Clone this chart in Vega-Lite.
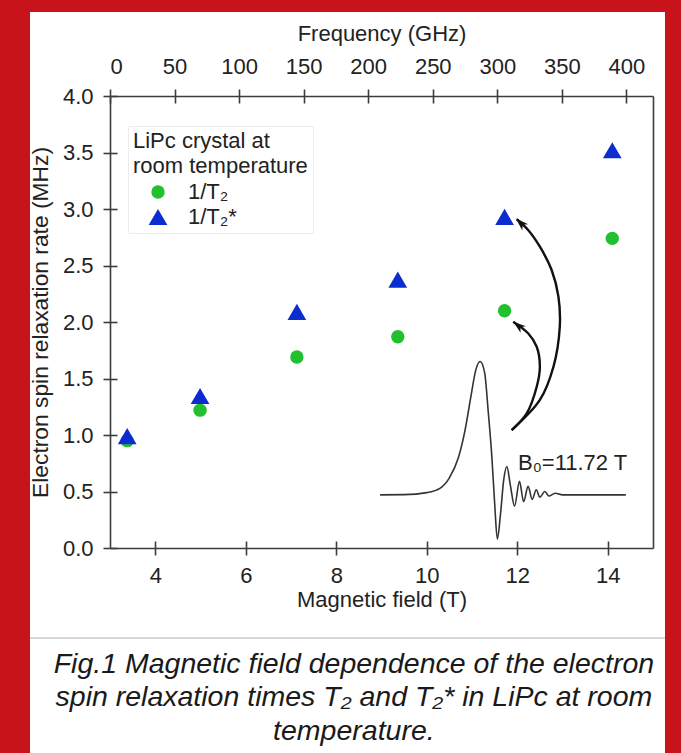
{
  "$schema": "https://vega.github.io/schema/vega-lite/v6.json",
  "autosize": {"type": "none"},
  "width": 543,
  "height": 452,
  "padding": {"left": 110, "top": 96, "right": 28, "bottom": 205},
  "background": "#c8131a",
  "config": {
    "view": {"stroke": null},
    "font": "Liberation Sans",
    "axis": {
      "zindex": 1,
      "grid": false,
      "domainColor": "#3c3c3c",
      "domainWidth": 1.6,
      "tickColor": "#3c3c3c",
      "tickWidth": 1.6,
      "labelFont": "Liberation Sans",
      "labelFontSize": 22,
      "labelColor": "#222222",
      "titleFont": "Liberation Sans",
      "titleFontSize": 22,
      "titleFontWeight": "normal",
      "titleColor": "#222222"
    }
  },
  "datasets": {
    "points": [
      {"field": 3.38, "rate": 0.95, "series": "1/T₂"},
      {"field": 4.99, "rate": 1.22, "series": "1/T₂"},
      {"field": 7.13, "rate": 1.69, "series": "1/T₂"},
      {"field": 9.36, "rate": 1.87, "series": "1/T₂"},
      {"field": 11.72, "rate": 2.1, "series": "1/T₂"},
      {"field": 14.1, "rate": 2.74, "series": "1/T₂"},
      {"field": 3.38, "rate": 0.99, "series": "1/T₂*"},
      {"field": 4.99, "rate": 1.345, "series": "1/T₂*"},
      {"field": 7.13, "rate": 2.09, "series": "1/T₂*"},
      {"field": 9.36, "rate": 2.375, "series": "1/T₂*"},
      {"field": 11.72, "rate": 2.93, "series": "1/T₂*"},
      {"field": 14.1, "rate": 3.52, "series": "1/T₂*"}
    ],
    "curve": [
      {"field": 8.97, "signal": 0.47},
      {"field": 9.5, "signal": 0.472},
      {"field": 10.0, "signal": 0.49},
      {"field": 10.3, "signal": 0.53},
      {"field": 10.5, "signal": 0.62},
      {"field": 10.7, "signal": 0.8},
      {"field": 10.85, "signal": 1.05},
      {"field": 10.98, "signal": 1.35},
      {"field": 11.08, "signal": 1.57},
      {"field": 11.18, "signal": 1.65},
      {"field": 11.28, "signal": 1.55},
      {"field": 11.36, "signal": 1.2},
      {"field": 11.44, "signal": 0.8},
      {"field": 11.5, "signal": 0.4},
      {"field": 11.56, "signal": 0.08},
      {"field": 11.63, "signal": 0.3},
      {"field": 11.7, "signal": 0.6},
      {"field": 11.77, "signal": 0.72},
      {"field": 11.85, "signal": 0.55},
      {"field": 11.94, "signal": 0.37},
      {"field": 12.05, "signal": 0.59},
      {"field": 12.14, "signal": 0.41},
      {"field": 12.24, "signal": 0.545},
      {"field": 12.33, "signal": 0.43},
      {"field": 12.42, "signal": 0.515},
      {"field": 12.5, "signal": 0.45},
      {"field": 12.61, "signal": 0.5},
      {"field": 12.7, "signal": 0.46},
      {"field": 12.84, "signal": 0.485},
      {"field": 13.0, "signal": 0.47},
      {"field": 14.4, "signal": 0.47}
    ],
    "arrows": [
      {"arrow": "lower", "step": 0, "field": 11.877, "rate": 1.044},
      {"arrow": "lower", "step": 1, "field": 12.21, "rate": 1.192},
      {"arrow": "lower", "step": 2, "field": 12.43, "rate": 1.427},
      {"arrow": "lower", "step": 3, "field": 12.5, "rate": 1.604},
      {"arrow": "lower", "step": 4, "field": 12.43, "rate": 1.781},
      {"arrow": "lower", "step": 5, "field": 12.24, "rate": 1.9},
      {"arrow": "lower", "step": 6, "field": 11.91, "rate": 2.003},
      {"arrow": "upper", "step": 0, "field": 11.877, "rate": 1.044},
      {"arrow": "upper", "step": 1, "field": 12.5, "rate": 1.31},
      {"arrow": "upper", "step": 2, "field": 12.8, "rate": 1.604},
      {"arrow": "upper", "step": 3, "field": 12.94, "rate": 1.958},
      {"arrow": "upper", "step": 4, "field": 12.91, "rate": 2.224},
      {"arrow": "upper", "step": 5, "field": 12.76, "rate": 2.46},
      {"arrow": "upper", "step": 6, "field": 12.5, "rate": 2.666},
      {"arrow": "upper", "step": 7, "field": 12.24, "rate": 2.814},
      {"arrow": "upper", "step": 8, "field": 11.99, "rate": 2.909}
    ],
    "heads": [
      {"arrow": "lower", "field": 11.91, "rate": 2.003},
      {"arrow": "upper", "field": 11.97, "rate": 2.915}
    ]
  },
  "resolve": {
    "scale": {"x": "independent", "y": "independent"},
    "axis": {"x": "independent", "y": "independent"}
  },
  "layer": [
    {
      "data": {"values": [{}]},
      "mark": {"type": "rect", "fill": "white", "clip": false, "zindex": 0},
      "encoding": {
        "x": {"datum": 1.232, "type": "quantitative", "scale": {"domain": [3, 15], "nice": false, "zero": false}, "axis": null},
        "x2": {"datum": 15.265},
        "y": {"datum": 4.743, "type": "quantitative", "scale": {"domain": [0, 4], "nice": false, "zero": false}, "axis": null},
        "y2": {"datum": -1.95}
      }
    },
    {
      "data": {"values": [{}]},
      "mark": {"type": "rule", "color": "#d8d8d8", "strokeWidth": 2, "clip": false},
      "encoding": {
        "x": {"datum": 1.232, "type": "quantitative", "scale": {"domain": [3, 15], "nice": false, "zero": false}, "axis": null},
        "x2": {"datum": 15.265},
        "y": {"datum": -0.796, "type": "quantitative", "scale": {"domain": [0, 4], "nice": false, "zero": false}, "axis": null}
      }
    },
    {
      "data": {"values": [{}]},
      "mark": {
        "type": "text",
        "text": ["Fig.1 Magnetic field dependence of the electron", "spin relaxation times T₂ and T₂* in LiPc at room", "temperature."],
        "font": "Liberation Sans",
        "fontStyle": "italic",
        "fontSize": 28.5,
        "lineHeight": 33.5,
        "align": "center",
        "baseline": "top",
        "color": "#1a1a1a",
        "clip": false
      },
      "encoding": {
        "x": {"datum": 8.39, "type": "quantitative", "scale": {"domain": [3, 15], "nice": false, "zero": false}, "axis": null},
        "y": {"datum": -0.9, "type": "quantitative", "scale": {"domain": [0, 4], "nice": false, "zero": false}, "axis": null}
      }
    },
    {
      "data": {"name": "curve"},
      "mark": {"type": "line", "color": "#333333", "strokeWidth": 1.6, "interpolate": "monotone"},
      "encoding": {
        "x": {"field": "field", "type": "quantitative", "scale": {"domain": [3, 15], "nice": false, "zero": false},
          "axis": {"orient": "bottom", "zindex": 2, "values": [4, 6, 8, 10, 12, 14], "tickSize": -7, "labels": false, "domain": false, "title": null}},
        "y": {"field": "signal", "type": "quantitative", "scale": {"domain": [0, 4], "nice": false, "zero": false},
          "axis": {"orient": "left", "zindex": 2, "values": [0, 0.5, 1, 1.5, 2, 2.5, 3, 3.5, 4], "tickSize": -7, "labels": false, "domain": false, "title": null}}
      }
    },
    {
      "data": {"name": "arrows"},
      "mark": {"type": "line", "color": "#111111", "strokeWidth": 2.4, "interpolate": "catmull-rom"},
      "encoding": {
        "x": {"field": "field", "type": "quantitative", "scale": {"domain": [3, 15], "nice": false, "zero": false}, "axis": null},
        "y": {"field": "rate", "type": "quantitative", "scale": {"domain": [0, 4], "nice": false, "zero": false}, "axis": null},
        "detail": {"field": "arrow"},
        "order": {"field": "step", "type": "quantitative"}
      }
    },
    {
      "data": {"name": "heads"},
      "transform": [{"filter": "datum.arrow === 'lower'"}],
      "mark": {"type": "point", "shape": "M0,0 L-0.6,1.8 L0,1.3 L0.6,1.8 Z", "filled": true, "color": "#111111", "opacity": 1, "size": 200, "angle": 308},
      "encoding": {
        "x": {"field": "field", "type": "quantitative", "scale": {"domain": [3, 15], "nice": false, "zero": false}, "axis": null},
        "y": {"field": "rate", "type": "quantitative", "scale": {"domain": [0, 4], "nice": false, "zero": false}, "axis": null}
      }
    },
    {
      "data": {"name": "heads"},
      "transform": [{"filter": "datum.arrow === 'upper'"}],
      "mark": {"type": "point", "shape": "M0,0 L-0.6,1.8 L0,1.3 L0.6,1.8 Z", "filled": true, "color": "#111111", "opacity": 1, "size": 200, "angle": 313},
      "encoding": {
        "x": {"field": "field", "type": "quantitative", "scale": {"domain": [3, 15], "nice": false, "zero": false}, "axis": null},
        "y": {"field": "rate", "type": "quantitative", "scale": {"domain": [0, 4], "nice": false, "zero": false}, "axis": null}
      }
    },
    {
      "data": {"values": [{}]},
      "mark": {"type": "text", "text": "B₀=11.72 T", "font": "Liberation Sans", "fontSize": 22, "align": "left", "baseline": "middle", "color": "#222222"},
      "encoding": {
        "x": {"datum": 12.017, "type": "quantitative", "scale": {"domain": [3, 15], "nice": false, "zero": false}, "axis": null},
        "y": {"datum": 0.752, "type": "quantitative", "scale": {"domain": [0, 4], "nice": false, "zero": false}, "axis": null}
      }
    },
    {
      "data": {"name": "points"},
      "mark": {"type": "point", "filled": true, "opacity": 1, "strokeWidth": 0},
      "encoding": {
        "x": {"field": "field", "type": "quantitative", "scale": {"domain": [3, 15], "nice": false, "zero": false},
          "axis": {"orient": "bottom", "zindex": 2, "title": "Magnetic field (T)", "values": [4, 6, 8, 10, 12, 14], "tickSize": 7, "labelPadding": 10, "titlePadding": 3}},
        "y": {"field": "rate", "type": "quantitative", "scale": {"domain": [0, 4], "nice": false, "zero": false},
          "axis": {"orient": "left", "zindex": 2, "title": "Electron spin relaxation rate (MHz)", "titleFontSize": 22.8, "values": [0, 0.5, 1, 1.5, 2, 2.5, 3, 3.5, 4], "format": ".1f", "tickSize": 7, "labelPadding": 10, "titlePadding": 10}},
        "color": {"field": "series", "type": "nominal",
          "scale": {"domain": ["1/T₂", "1/T₂*"], "range": ["#22bf2e", "#0b2dd0"]},
          "legend": {"orient": "none", "legendX": 18, "legendY": 30, "title": ["LiPc crystal at", "room temperature"],
            "titleFontSize": 22, "titleFontWeight": "normal", "titleColor": "#222222", "titleLineHeight": 25, "titlePadding": 3,
            "labelFontSize": 22, "labelColor": "#222222", "symbolOffset": 14, "labelOffset": 19, "rowPadding": 3,
            "padding": 5, "strokeColor": "#ececec", "fillColor": "white", "symbolSize": 220, "symbolStrokeWidth": 0}},
        "shape": {"field": "series", "type": "nominal", "scale": {"domain": ["1/T₂", "1/T₂*"], "range": ["circle", "triangle-up"]}},
        "size": {"field": "series", "type": "nominal", "scale": {"domain": ["1/T₂", "1/T₂*"], "range": [180, 350]}, "legend": null}
      }
    },
    {
      "data": {"values": [{}]},
      "mark": {"type": "point", "opacity": 0},
      "encoding": {
        "x": {"datum": 0, "type": "quantitative", "scale": {"domain": [0, 420.6], "nice": false, "zero": false},
          "axis": {"orient": "top", "zindex": 2, "title": "Frequency (GHz)", "values": [0, 50, 100, 150, 200, 250, 300, 350, 400], "tickSize": 7, "labelPadding": 11, "titlePadding": 10}},
        "y": {"datum": 0, "type": "quantitative", "scale": {"domain": [0, 4], "nice": false, "zero": false}, "axis": null}
      }
    },
    {
      "data": {"values": [{}]},
      "mark": {"type": "point", "opacity": 0},
      "encoding": {
        "x": {"datum": 0, "type": "quantitative", "scale": {"domain": [0, 420.6], "nice": false, "zero": false},
          "axis": {"orient": "top", "zindex": 2, "values": [0, 50, 100, 150, 200, 250, 300, 350, 400], "tickSize": -7, "labels": false, "domain": false, "title": null}},
        "y": {"datum": 0, "type": "quantitative", "scale": {"domain": [0, 4], "nice": false, "zero": false},
          "axis": {"orient": "right", "zindex": 2, "ticks": false, "labels": false, "domain": true, "title": null}}
      }
    }
  ]
}
